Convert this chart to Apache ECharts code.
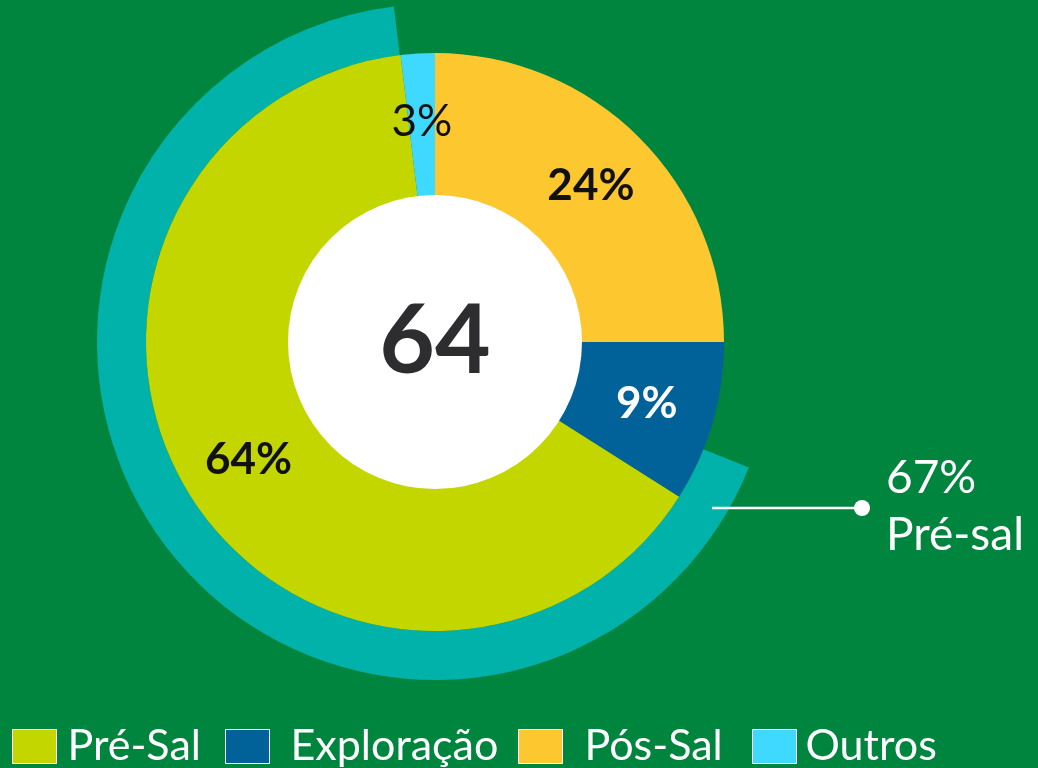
<!DOCTYPE html>
<html>
<head>
<meta charset="utf-8">
<script src="https://cdn.jsdelivr.net/npm/echarts@6/dist/echarts.min.js"></script>
<style>
  html, body { margin: 0; padding: 0; background: #00853F; }
  #chart { width: 1038px; height: 768px; }
</style>
</head>
<body>
<div id="chart"></div>
<script>
// slices clockwise from 12 o'clock (sizes as drawn, labels as printed)
var names = ['Pós-Sal', 'Exploração', 'Pré-Sal', 'Outros'];
var values = [25, 9, 64.1, 1.9];
var labels = ['24%', '9%', '64%', '3%'];
var colors = ['#FDC82F', '#006298', '#C4D600', '#3FD9FF'];
var labelColors = ['#111', '#fff', '#111', '#111'];
var labelWeights = ['bold', 'bold', 'bold', 'normal'];

// legend order
var legendNames = ['Pré-Sal', 'Exploração', 'Pós-Sal', 'Outros'];
var legendLeft = [12, 225, 518, 752];
var legendPad = [6, 16, 17, 4];

// outer ring (pré-sal total)
var ringValue = 67;
var ringLabel = 'Pré-sal';
var centerValue = 64;

var FONT = 'Lato';

var chart = echarts.init(document.getElementById('chart'));

var pieData = names.map(function (n, i) {
    return {
        name: n,
        value: values[i],
        itemStyle: { color: colors[i] },
        label: { color: labelColors[i], fontWeight: labelWeights[i], formatter: labels[i] }
    };
});

var option = {
    backgroundColor: '#00853F',
    animation: false,
    legend: legendNames.map(function (n, i) {
        return {
            data: [n],
            left: legendLeft[i],
            top: 725,
            padding: 0,
            itemWidth: 44,
            itemHeight: 34,
            icon: 'rect',
            selectedMode: false,
            itemStyle: { borderColor: '#fff', borderWidth: 1 },
            textStyle: {
                color: '#fff',
                fontSize: 43,
                fontFamily: FONT,
                padding: [0, 0, 0, legendPad[i]]
            }
        };
    }),
    series: [
        {
            // outer teal ring
            type: 'pie',
            center: [435, 342],
            radius: [289, 338],
            startAngle: 97,
            clockwise: true,
            silent: true,
            label: { show: false },
            labelLine: { show: false },
            data: [
                { name: 'gap', value: 100 - ringValue, itemStyle: { color: 'transparent' } },
                { name: 'ring', value: ringValue, itemStyle: { color: '#00B2A9' } }
            ]
        },
        {
            type: 'pie',
            center: [435, 342],
            radius: [146, 289],
            startAngle: 90,
            clockwise: true,
            avoidLabelOverlap: false,
            silent: true,
            itemStyle: { borderWidth: 0 },
            label: {
                show: true,
                position: 'inside',
                fontSize: 44,
                fontFamily: FONT
            },
            labelLine: { show: false },
            data: pieData
        },
        {
            // white center
            type: 'pie',
            center: [435, 342],
            radius: [0, 147],
            silent: true,
            label: {
                show: true,
                position: 'center',
                formatter: String(centerValue),
                fontSize: 96,
                fontWeight: 'bold',
                fontFamily: FONT,
                color: '#2D2D2F'
            },
            labelLine: { show: false },
            data: [{ name: 'centro', value: 1, itemStyle: { color: '#fff' } }]
        }
    ],
    graphic: [
        {
            type: 'line',
            z: 100,
            shape: { x1: 712, y1: 508, x2: 862, y2: 508 },
            style: { stroke: '#fff', lineWidth: 2.5 }
        },
        {
            type: 'circle',
            z: 100,
            shape: { cx: 862, cy: 508, r: 8 },
            style: { fill: '#fff' }
        },
        {
            type: 'text',
            z: 100,
            left: 886,
            top: 450,
            style: {
                text: ringValue + '%\n' + ringLabel,
                fill: '#fff',
                fontSize: 46,
                lineHeight: 57,
                fontFamily: FONT
            }
        }
    ]
};

chart.setOption(option);
</script>
</body>
</html>
